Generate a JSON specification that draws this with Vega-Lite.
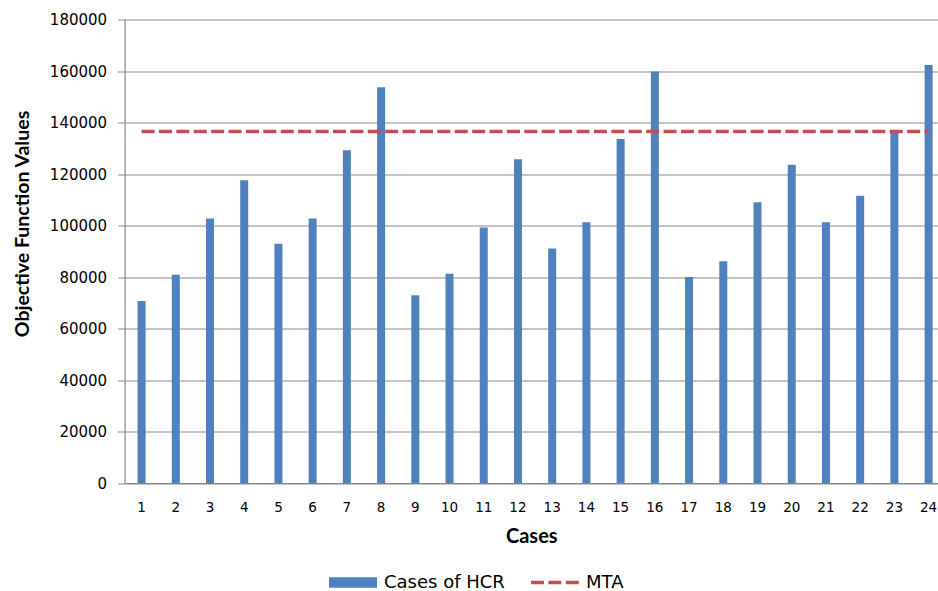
{
  "$schema": "https://vega.github.io/schema/vega-lite/v6.json",
  "autosize": "none",
  "width": 813.4,
  "height": 463.5,
  "padding": {"left": 124.6, "top": 19.5, "right": 0, "bottom": 108},
  "background": "white",
  "config": {
    "view": {"stroke": null},
    "axis": {"labelFont": "DejaVu Sans", "labelColor": "#000000", "titleFont": "Lato", "titleColor": "#000000", "titleFontWeight": "bold"},
    "axisY": {
      "labelFont": "DejaVu Sans",
      "labelFontSize": 15,
      "labelPadding": 11,
      "tickSize": 7,
      "tickColor": "#868686",
      "domainColor": "#868686",
      "domainWidth": 1.2,
      "gridColor": "#8a8a8a",
      "gridWidth": 1.1,
      "titleFontSize": 19.5,
      "titlePadding": 17
    }
  },
  "data": {
    "values": [
      {"case": 1, "hcr": 70700, "mta": 136500},
      {"case": 2, "hcr": 80900, "mta": 136500},
      {"case": 3, "hcr": 102700, "mta": 136500},
      {"case": 4, "hcr": 117600, "mta": 136500},
      {"case": 5, "hcr": 92900, "mta": 136500},
      {"case": 6, "hcr": 102700, "mta": 136500},
      {"case": 7, "hcr": 129200, "mta": 136500},
      {"case": 8, "hcr": 153700, "mta": 136500},
      {"case": 9, "hcr": 72900, "mta": 136500},
      {"case": 10, "hcr": 81300, "mta": 136500},
      {"case": 11, "hcr": 99200, "mta": 136500},
      {"case": 12, "hcr": 125700, "mta": 136500},
      {"case": 13, "hcr": 91100, "mta": 136500},
      {"case": 14, "hcr": 101300, "mta": 136500},
      {"case": 15, "hcr": 133600, "mta": 136500},
      {"case": 16, "hcr": 159800, "mta": 136500},
      {"case": 17, "hcr": 80000, "mta": 136500},
      {"case": 18, "hcr": 86100, "mta": 136500},
      {"case": 19, "hcr": 109000, "mta": 136500},
      {"case": 20, "hcr": 123600, "mta": 136500},
      {"case": 21, "hcr": 101300, "mta": 136500},
      {"case": 22, "hcr": 111600, "mta": 136500},
      {"case": 23, "hcr": 136800, "mta": 136500},
      {"case": 24, "hcr": 162300, "mta": 136500}
    ]
  },
  "encoding": {
    "x": {
      "field": "case",
      "type": "ordinal",
      "scale": {"paddingInner": 0.766, "paddingOuter": 0.268, "align": 0.706},
      "axis": {
        "title": "Cases",
        "titleFontSize": 20,
        "titlePadding": 13,
        "labelAngle": 0,
        "labelFontSize": 13.5,
        "labelPadding": 17,
        "ticks": false,
        "domainColor": "#868686",
        "domainWidth": 1.2,
        "grid": false
      }
    }
  },
  "layer": [
    {
      "mark": {"type": "bar", "color": "#4F81BD"},
      "encoding": {
        "y": {
          "field": "hcr",
          "type": "quantitative",
          "scale": {"domain": [0, 180000], "nice": false},
          "axis": {
            "title": "Objective Function Values",
            "titleY": 204,
            "values": [0, 20000, 40000, 60000, 80000, 100000, 120000, 140000, 160000, 180000],
            "format": "d"
          }
        },
        "color": {
          "datum": "Cases of HCR",
          "scale": {"domain": ["Cases of HCR", "MTA"], "range": ["#4F81BD", "#C0504D"]},
          "legend": {
            "title": null,
            "orient": "none",
            "legendX": 219.4,
            "legendY": 554,
            "direction": "horizontal",
            "symbolSize": 2304,
            "labelFont": "DejaVu Sans",
            "labelFontSize": 18,
            "labelColor": "#000000",
            "labelOffset": 22,
            "columnPadding": 19,
            "encode": {
              "symbols": {
                "update": {
                  "shape": {"signal": "datum.value === 'MTA' ? 'stroke' : 'M-1,-0.22H1V0.22H-1Z'"},
                  "fill": {"signal": "datum.value === 'MTA' ? 'transparent' : '#4F81BD'"},
                  "stroke": {"signal": "datum.value === 'MTA' ? '#C0504D' : 'transparent'"},
                  "strokeWidth": {"signal": "datum.value === 'MTA' ? 3.5 : 0"},
                  "strokeDash": {"signal": "datum.value === 'MTA' ? [13, 4.4] : [1, 0]"},
                  "fillOpacity": {"value": 1},
                  "opacity": {"value": 1}
                }
              }
            }
          }
        }
      }
    },
    {
      "mark": {"type": "line", "strokeWidth": 3.5, "strokeDash": [13, 4.4]},
      "encoding": {
        "y": {"field": "mta", "type": "quantitative"},
        "color": {"datum": "MTA"}
      }
    }
  ]
}
